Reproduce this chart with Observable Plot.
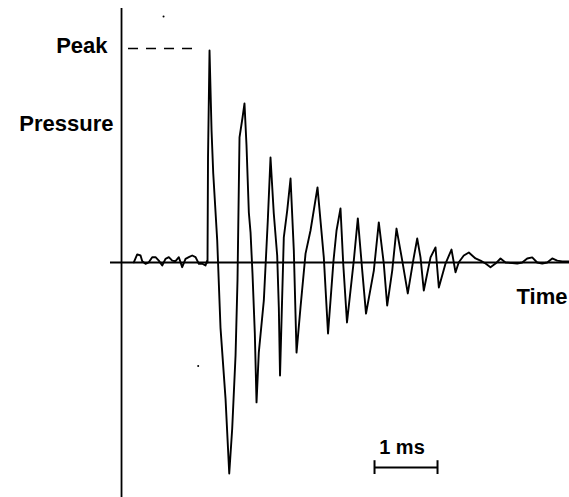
<!DOCTYPE html>
<html>
<head>
<meta charset="utf-8">
<script src="https://cdn.jsdelivr.net/npm/d3@7"></script>
<script src="https://cdn.jsdelivr.net/npm/@observablehq/plot@0.6"></script>
<style>
  html, body { margin: 0; padding: 0; background: #fff; }
  #chart svg { display: block; }
</style>
</head>
<body>
<div id="chart"></div>
<script>
// Time in ms (0 = vertical axis), pressure relative to peak (1 = peak)
const timeMs = [
  0.195, 0.249, 0.302, 0.329, 0.381, 0.433, 0.487, 0.540, 0.592, 0.646,
  0.698, 0.751, 0.805, 0.857, 0.910, 0.963, 1.016, 1.068, 1.122, 1.175,
  1.227, 1.281, 1.333, 1.360,
  1.365, 1.373, 1.397, 1.429, 1.456, 1.519, 1.571, 1.651, 1.710,
  1.757, 1.810, 1.841, 1.873, 1.921, 1.952,
  1.984, 2.021, 2.048, 2.079, 2.116, 2.143,
  2.179, 2.259, 2.322, 2.365,
  2.417, 2.471, 2.497, 2.516,
  2.576, 2.630, 2.683,
  2.735, 2.778,
  2.841, 2.921, 3.000, 3.111,
  3.211, 3.278,
  3.365, 3.413, 3.476,
  3.519, 3.579,
  3.687, 3.751,
  3.821, 3.881,
  4.005, 4.084,
  4.163, 4.217,
  4.297, 4.365,
  4.456, 4.544,
  4.630, 4.694,
  4.746, 4.798,
  4.905, 4.984,
  5.037,
  5.143, 5.238,
  5.302,
  5.354, 5.433, 5.513, 5.619, 5.698, 5.778, 5.857, 5.937, 6.016, 6.095,
  6.202, 6.281, 6.360, 6.440, 6.519, 6.598, 6.678, 6.757, 6.837, 6.916,
  6.995, 7.111
];
const pressure = [
  0.001, 0.038, 0.033, 0.006, -0.006, 0.001, 0.025, 0.025, 0.009, -0.014,
  0.017, 0.025, 0.009, 0.006, 0.025, -0.022, 0.017, 0.025, 0.033, 0.025,
  -0.006, -0.006, -0.014, 0.009,
  0.000, 0.495, 1.000, 0.623, 0.420, 0.104, -0.307, -0.642, -0.995,
  -0.783, -0.439, -0.085, 0.590, 0.684, 0.750,
  0.552, 0.236, 0.142, -0.052, -0.335, -0.660,
  -0.425, -0.179, 0.198, 0.495,
  0.231, 0.033, -0.212, -0.533,
  0.118, 0.245, 0.396,
  0.057, -0.425,
  -0.212, 0.042, 0.151, 0.354,
  0.024, -0.335,
  0.009, 0.151, 0.255,
  -0.005, -0.283,
  0.009, 0.208,
  -0.038, -0.241,
  -0.038, 0.189,
  -0.005, -0.203,
  -0.038, 0.160,
  0.009, -0.146,
  0.009, 0.113,
  0.024, -0.132,
  0.024, 0.071,
  -0.118,
  -0.005, 0.061,
  -0.046,
  0.001, 0.033, 0.047, 0.019, 0.009, -0.005, -0.022, -0.005, 0.019, 0.000,
  -0.003, -0.005, 0.000, 0.019, 0.024, 0.000, -0.005, 0.000, 0.019, 0.009,
  0.005, 0.005
];
const peakPressure = 1.0;
const scaleBarMs = 1;
const labels = ["Peak", "Pressure", "Time", "1 ms"];

const wave = timeMs.map((t, i) => ({t, p: pressure[i]}));

const font = "'Liberation Sans', Arial, Helvetica, sans-serif";
const barStart = 4.016;

const chart = Plot.plot({
  width: 569,
  height: 497,
  margin: 0,
  style: {background: "#fff", fontFamily: font, color: "#000"},
  x: {domain: [-1.921, 7.111], axis: null},
  y: {domain: [-1.1085, 1.2358], axis: null},
  marks: [
    // axes
    Plot.ruleX([0], {y1: -1.12, y2: 1.198, stroke: "#000", strokeWidth: 1.8}),
    Plot.ruleY([0], {x1: -0.175, x2: 7.2, stroke: "#000", strokeWidth: 1.8}),
    // peak level dashed line
    Plot.ruleY([peakPressure * 1.009], {x1: 0.111, x2: 1.127, stroke: "#000", strokeWidth: 1.5, strokeDasharray: "10,8"}),
    // waveform
    Plot.line(wave, {x: "t", y: "p", stroke: "#000", strokeWidth: 1.9, curve: "linear"}),
    // scale bar
    Plot.ruleY([-0.967], {x1: barStart, x2: barStart + scaleBarMs, stroke: "#000", strokeWidth: 2}),
    Plot.ruleX([barStart, barStart + scaleBarMs], {y1: -0.935, y2: -1.0, stroke: "#000", strokeWidth: 2}),
    // stray specks in the original
    Plot.dot([{t: 0.667, p: 1.16}, {t: 1.217, p: -0.488}], {x: "t", y: "p", r: 1, fill: "#000", stroke: null}),
    // labels
    Plot.text([labels[0]], {x: -0.222, y: 0.986, textAnchor: "end", lineAnchor: "bottom", fontSize: 22, fontWeight: "bold", fontFamily: font, fill: "#000"}),
    Plot.text([labels[1]], {x: -0.127, y: 0.618, textAnchor: "end", lineAnchor: "bottom", fontSize: 22, fontWeight: "bold", fontFamily: font, fill: "#000"}),
    Plot.text([labels[2]], {x: 6.27, y: -0.198, textAnchor: "start", lineAnchor: "bottom", fontSize: 22, fontWeight: "bold", fontFamily: font, fill: "#000"}),
    Plot.text([labels[3]], {x: 4.452, y: -0.901, textAnchor: "middle", lineAnchor: "bottom", fontSize: 20, fontWeight: "bold", fontFamily: font, fill: "#000"})
  ]
});
document.getElementById("chart").appendChild(chart);
</script>
</body>
</html>
